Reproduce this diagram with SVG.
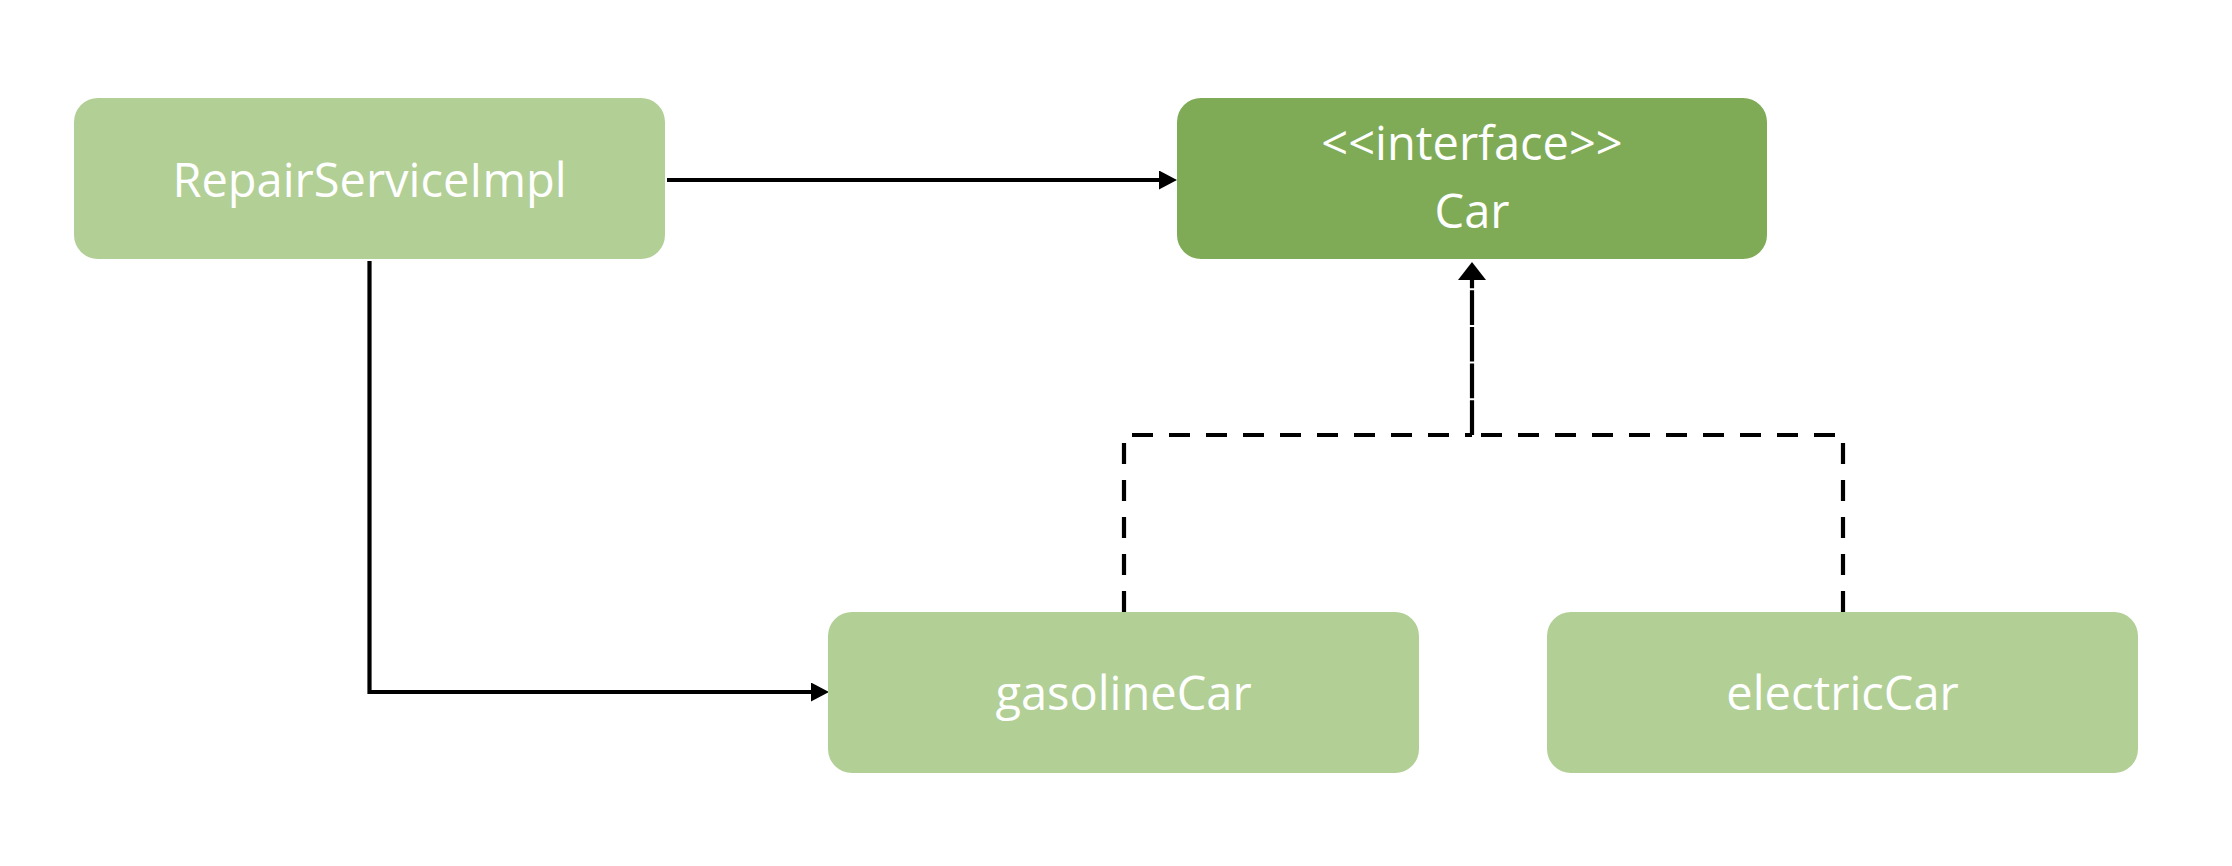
<svg xmlns="http://www.w3.org/2000/svg" width="2232" height="866" viewBox="0 0 2232 866">
  <style>
    .box { fill: #B2CF96; }
    .box-dark { fill: #7FAB56; }
    .label { font-family: "Open Sans", "Noto Sans", sans-serif; font-size: 47px; fill: #FFFFFF; text-anchor: middle; }
    .conn { fill: none; stroke: #000000; stroke-width: 4.2; }
    .dash { stroke-dasharray: 21 16; }
    .dash-v { stroke-dasharray: 34.7 2; }
  </style>
  <defs>
    <marker id="arrow" markerUnits="userSpaceOnUse" viewBox="0 0 18 19" markerWidth="18" markerHeight="19" refX="8" refY="9.5" orient="auto">
      <path d="M0 0 L18 9.5 L0 19 Z" fill="#000000"/>
    </marker>
    <marker id="arrow-wide" markerUnits="userSpaceOnUse" viewBox="0 0 18 28" markerWidth="18" markerHeight="28" refX="8" refY="14" orient="auto">
      <path d="M0 0 L18 14 L0 28 Z" fill="#000000"/>
    </marker>
  </defs>
  <rect x="0" y="0" width="2232" height="866" fill="#FFFFFF"/>
  <g id="connectors">
    <path class="conn" d="M667 180 H1167" marker-end="url(#arrow)"/>
    <path class="conn" d="M369.5 261 V692 H819" marker-end="url(#arrow)"/>
    <path class="conn dash" d="M1124 612 V435 H1472"/>
    <path class="conn dash" d="M1843 612 V435 H1472"/>
    <path class="conn dash-v" d="M1472 435 V272" marker-end="url(#arrow-wide)"/>
  </g>
  <g id="node-repairserviceimpl">
    <rect class="box" x="74" y="98" width="591" height="161" rx="24" ry="24"/>
    <text class="label" x="369.5" y="197">RepairServiceImpl</text>
  </g>
  <g id="node-car">
    <rect class="box-dark" x="1177" y="98" width="590" height="161" rx="24" ry="24"/>
    <text class="label" x="1472" y="160">&lt;&lt;interface&gt;&gt;</text>
    <text class="label" x="1472" y="228">Car</text>
  </g>
  <g id="node-gasolinecar">
    <rect class="box" x="828" y="612" width="591" height="161" rx="24" ry="24"/>
    <text class="label" x="1123.5" y="710">gasolineCar</text>
  </g>
  <g id="node-electriccar">
    <rect class="box" x="1547" y="612" width="591" height="161" rx="24" ry="24"/>
    <text class="label" x="1842.5" y="710">electricCar</text>
  </g>
</svg>
